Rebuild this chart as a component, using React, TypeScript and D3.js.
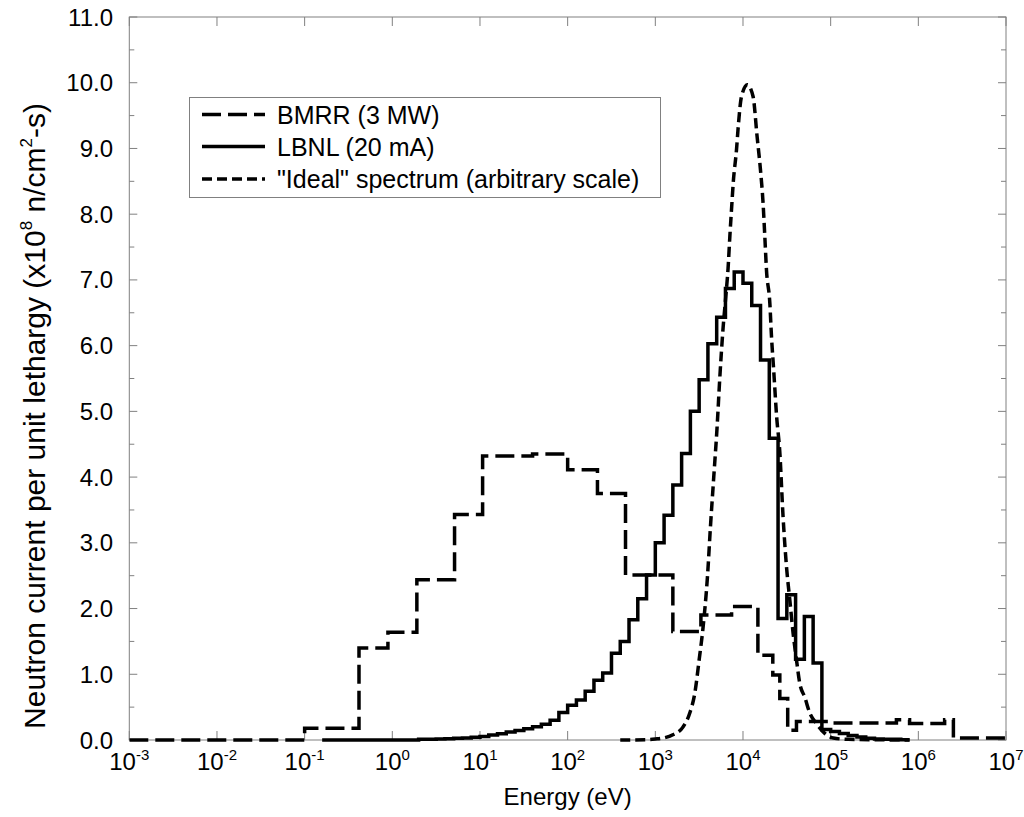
import React from "react";
import * as d3 from "d3";

// ---- data (energies given as log10(E / eV)) ----
const bmrrLogEdges = [-3, -1, -0.38, -0.05, 0.28, 0.71, 1.03, 1.6, 2.0, 2.34, 2.66, 3.2, 3.52, 3.87, 4.17, 4.34, 4.42, 4.51, 4.61, 5.0, 5.75, 5.9, 6.3, 6.4, 7.0];
const bmrrFlux = [0, 0.18, 1.4, 1.64, 2.44, 3.43, 4.32, 4.35, 4.11, 3.75, 2.51, 1.65, 1.9, 2.03, 1.29, 0.99, 0.63, 0.15, 0.28, 0.26, 0.31, 0.25, 0.31, 0.03];

const lbnlLogEdges = [-0.8, 0.3, 0.4, 0.5, 0.6, 0.7, 0.8, 0.9, 1.0, 1.1, 1.2, 1.3, 1.4, 1.5, 1.6, 1.7, 1.8, 1.9, 2.0, 2.1, 2.2, 2.3, 2.4, 2.5, 2.6, 2.7, 2.8, 2.9, 3.0, 3.1, 3.2, 3.3, 3.4, 3.5, 3.6, 3.7, 3.8, 3.9, 4.0, 4.1, 4.2, 4.3, 4.4, 4.5, 4.6, 4.7, 4.8, 4.9, 5.0, 5.1, 5.2, 5.3, 5.4, 5.5, 5.6, 5.7, 5.8, 5.9];
const lbnlFlux = [0, 0.01, 0.01, 0.015, 0.02, 0.025, 0.03, 0.04, 0.055, 0.075, 0.095, 0.12, 0.145, 0.17, 0.2, 0.24, 0.3, 0.42, 0.53, 0.61, 0.74, 0.91, 1.02, 1.32, 1.5, 1.83, 2.15, 2.51, 3.0, 3.42, 3.88, 4.36, 5.0, 5.48, 6.03, 6.43, 6.87, 7.12, 6.95, 6.61, 5.78, 4.59, 1.85, 2.21, 1.23, 1.88, 1.17, 0.16, 0.13, 0.1, 0.07, 0.045, 0.025, 0.015, 0.01, 0.01, 0.005];

const idealLogE = [2.6, 2.9, 3.0, 3.09, 3.2, 3.317, 3.393, 3.45, 3.5, 3.545, 3.595, 3.629, 3.667, 3.705, 3.735, 3.773, 3.804, 3.83, 3.85, 3.869, 3.89, 3.926, 3.944, 3.983, 4.05, 4.115, 4.161, 4.199, 4.229, 4.249, 4.268, 4.306, 4.325, 4.35, 4.385, 4.419, 4.457, 4.496, 4.534, 4.572, 4.61, 4.648, 4.705, 4.762, 4.838, 4.933, 5.03, 5.2, 5.9];
const idealFlux = [0, 0.005, 0.015, 0.03, 0.08, 0.2, 0.41, 0.71, 1.22, 1.72, 2.49, 3.25, 4.01, 4.77, 5.5, 6.27, 6.75, 7.18, 7.66, 8.07, 8.5, 8.98, 9.3, 9.79, 9.97, 9.79, 9.18, 8.68, 8.17, 7.66, 7.15, 6.65, 6.14, 5.63, 4.9, 4.4, 3.4, 2.64, 2.13, 1.62, 1.22, 0.86, 0.65, 0.41, 0.25, 0.1, 0.03, 0.01, 0];

const xTickExps = [-3, -2, -1, 0, 1, 2, 3, 4, 5, 6, 7];
const yMajorTicks = [0, 1, 2, 3, 4, 5, 6, 7, 8, 9, 10, 11];
const yMinorTicks = [0.5, 1.5, 2.5, 3.5, 4.5, 5.5, 6.5, 7.5, 8.5, 9.5, 10.5];

const legendItems = [
  { label: "BMRR (3 MW)", dash: "19,7" },
  { label: "LBNL (20 mA)", dash: "none" },
  { label: "\"Ideal\" spectrum (arbitrary scale)", dash: "10,5" },
];

const W = 1024;
const H = 817;
const L = 129.3, R = 1006, T = 17, B = 740;
const FONT = "'Liberation Sans', Arial, Helvetica, sans-serif";
const AXC = "#808080";

export default function App() {
  const x = d3.scaleLog().domain([1e-3, 1e7]).range([L, R]);
  const y = d3.scaleLinear().domain([0, 11]).range([B, T]);

  const stepPts = (edges: number[], vals: number[]) => {
    const pts: [number, number][] = vals.map((v, i) => [Math.pow(10, edges[i]), v]);
    pts.push([Math.pow(10, edges[edges.length - 1]), vals[vals.length - 1]]);
    return pts;
  };
  const stepLine = d3.line<[number, number]>().x((d) => x(d[0])).y((d) => y(d[1])).curve(d3.curveStepAfter);
  const smoothLine = d3.line<[number, number]>().x((d) => x(d[0])).y((d) => y(d[1])).curve(d3.curveMonotoneX);

  const bmrrPath = stepLine(stepPts(bmrrLogEdges, bmrrFlux)) || "";
  const lbnlPath = stepLine(stepPts(lbnlLogEdges, lbnlFlux)) || "";
  const idealPath = smoothLine(idealLogE.map((e, i) => [Math.pow(10, e), idealFlux[i]] as [number, number])) || "";

  const legX0 = 202, legX1 = 265, legTx = 277;
  const legRowY = [114.5, 146.5, 179];

  return (
    <svg width={W} height={H} style={{ position: "absolute", left: 0, top: 0, background: "#fff" }} fontFamily={FONT}>
      <defs>
        <clipPath id="plotclip">
          <rect x={L} y={T - 2} width={R - L} height={B - T + 4} />
        </clipPath>
      </defs>
      <rect x={0} y={0} width={W} height={H} fill="#fff" />
      {/* frame */}
      <rect x={L} y={T} width={R - L} height={B - T} fill="none" stroke={AXC} strokeWidth={1} />
      {/* y ticks */}
      {yMajorTicks.map((v) => (
        <g key={"ym" + v}>
          <line x1={L} x2={L + 8} y1={y(v)} y2={y(v)} stroke={AXC} />
          <line x1={R} x2={R - 8} y1={y(v)} y2={y(v)} stroke={AXC} />
          <text x={113} y={y(v) + 8.5} textAnchor="end" fontSize={24} fill="#000">{v.toFixed(1)}</text>
        </g>
      ))}
      {yMinorTicks.map((v) => (
        <g key={"yn" + v}>
          <line x1={L} x2={L + 5} y1={y(v)} y2={y(v)} stroke={AXC} />
          <line x1={R} x2={R - 5} y1={y(v)} y2={y(v)} stroke={AXC} />
        </g>
      ))}
      {/* x ticks */}
      {xTickExps.map((e) => (
        <g key={"x" + e}>
          <line x1={x(Math.pow(10, e))} x2={x(Math.pow(10, e))} y1={B} y2={B - 9} stroke={AXC} />
          <line x1={x(Math.pow(10, e))} x2={x(Math.pow(10, e))} y1={T} y2={T + 9} stroke={AXC} />
          <text x={x(Math.pow(10, e))} y={770} textAnchor="middle" fontSize={24} fill="#000">
            10<tspan fontSize={15} dy={-10}>{String(e)}</tspan>
          </text>
        </g>
      ))}
      {/* axis titles */}
      <text x={(L + R) / 2} y={805} textAnchor="middle" fontSize={24} fill="#000">Energy (eV)</text>
      <text transform={`translate(45,103) rotate(-90)`} textAnchor="end" fontSize={30} fill="#000">
        Neutron current per unit lethargy (x10<tspan fontSize={17} dy={-13}>8</tspan>
        <tspan dy={13}> n/cm</tspan><tspan fontSize={17} dy={-13}>2</tspan><tspan dy={13}>-s)</tspan>
      </text>
      {/* series */}
      <g clipPath="url(#plotclip)" fill="none" stroke="#000" strokeWidth={3.5}>
        <path d={idealPath} strokeDasharray="10,5" />
        <path d={bmrrPath} strokeDasharray="19,7" />
        <path d={lbnlPath} />
      </g>
      {/* legend */}
      <rect x={189.5} y={97.5} width={471} height={100} fill="#fff" stroke={AXC} strokeWidth={1} />
      {legendItems.map((it, i) => (
        <g key={it.label}>
          <line x1={legX0} x2={legX1} y1={legRowY[i]} y2={legRowY[i]} stroke="#000" strokeWidth={3.5} strokeDasharray={it.dash} />
          <text x={legTx} y={legRowY[i] + 9} fontSize={25} fill="#000">{it.label}</text>
        </g>
      ))}
    </svg>
  );
}
